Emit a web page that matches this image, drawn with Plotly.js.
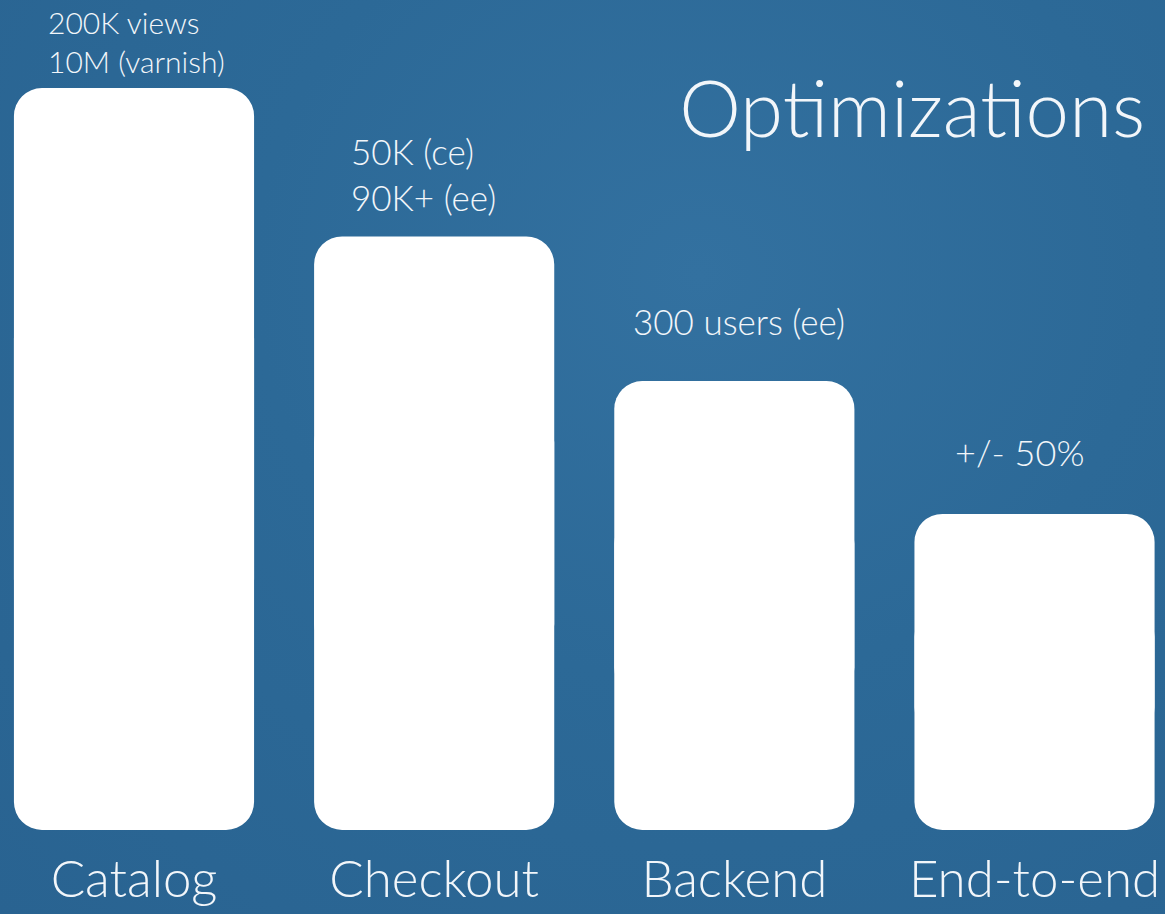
<!DOCTYPE html>
<html>
<head>
<meta charset="utf-8">
<script src="https://cdn.plot.ly/plotly-3.0.1.min.js"></script>
<style>
  html, body { margin: 0; padding: 0; }
  body {
    width: 1165px; height: 914px; overflow: hidden;
    background: radial-gradient(ellipse at 60% 30%, #3371a0 0%, #2c6997 45%, #296391 100%);
  }
  #chart { width: 1165px; height: 914px; }
</style>
</head>
<body>
<div id="chart"></div>
<script>
// ---- data (relative bar heights) ----
const categories = ["Catalog", "Checkout", "Backend", "End-to-end"];
const values = [100, 80, 60.5, 42.6];
const labels = ["200K views<br>10M (varnish)", "50K (ce)<br>90K+ (ee)", "300 users (ee)", "+/- 50%"];

// ---- styling ----
const FONT = "Lato, 'Open Sans', 'DejaVu Sans', sans-serif";
const TXT = "#f2f6fa";
const labelSizes = [30, 35, 35, 36];
const labelXShift = [-88, -85, -103, -82];
const labelYShift = [7, 16, 37, 38];

// two overlapping pieces per bar so that both ends get rounded corners
const upperBase = values.map(v => v * 0.3);
const upperLen = values.map(v => v * 0.7);
const lowerBase = values.map(v => v * 0.7);
const lowerLen = values.map(v => -v * 0.7);

const barStyle = {
  type: "bar",
  x: categories,
  marker: { color: "#ffffff", line: { width: 0 }, cornerradius: 28 },
  hoverinfo: "skip",
  showlegend: false
};

const traces = [
  Object.assign({}, barStyle, { y: upperLen, base: upperBase }),
  Object.assign({}, barStyle, { y: lowerLen, base: lowerBase })
];

const annotations = categories.map((c, i) => ({
  x: c, y: values[i], xref: "x", yref: "y",
  text: labels[i], showarrow: false,
  xanchor: "left", yanchor: "bottom", align: "left",
  xshift: labelXShift[i], yshift: labelYShift[i],
  font: { family: FONT, size: labelSizes[i], color: TXT, weight: 300 }
}));

const layout = {
  width: 1165, height: 914,
  margin: { l: 0, r: 0, t: 0, b: 84, pad: 0 },
  paper_bgcolor: "rgba(0,0,0,0)",
  plot_bgcolor: "rgba(0,0,0,0)",
  barmode: "overlay",
  bargap: 0.2,
  title: {
    text: "Optimizations",
    x: 0.983, xanchor: "right", xref: "paper",
    y: 0.8797, yanchor: "middle", yref: "container",
    font: { family: FONT, size: 78, color: TXT, weight: 300 }
  },
  xaxis: {
    range: [-0.4464, 3.4347],
    showgrid: false, zeroline: false, showline: false, ticks: "",
    tickfont: { family: FONT, size: 51, color: TXT, weight: 300 },
    ticklabelstandoff: 15,
    fixedrange: true
  },
  yaxis: {
    range: [0, 111.86],
    showgrid: false, zeroline: false, showline: false,
    showticklabels: false, ticks: "", fixedrange: true
  },
  annotations: annotations
};

Plotly.newPlot("chart", traces, layout, { displayModeBar: false, staticPlot: true });
</script>
</body>
</html>
